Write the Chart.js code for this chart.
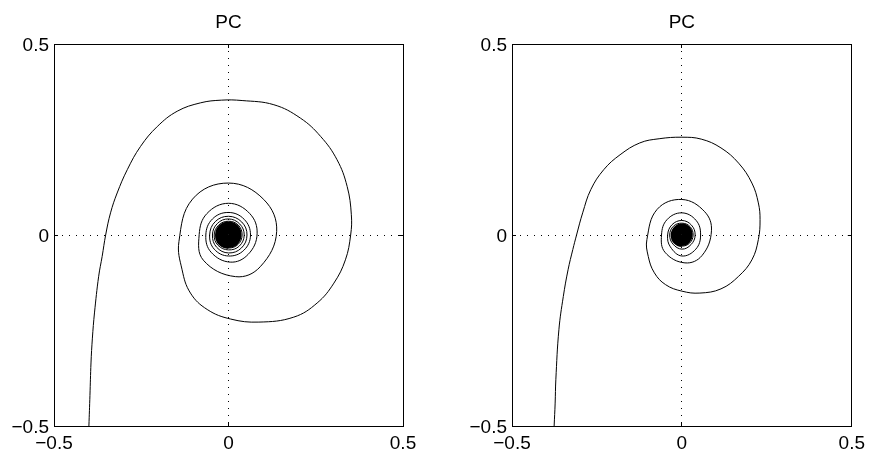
<!DOCTYPE html>
<html>
<head>
<meta charset="utf-8">
<script src="https://cdn.jsdelivr.net/npm/chart.js@4.4.1/dist/chart.umd.min.js"></script>
<style>
  html, body { margin: 0; padding: 0; background: #fff; }
  body { width: 875px; height: 451px; position: relative; overflow: hidden; }
  canvas { position: absolute; top: 0; }
  #left { left: 0; }
  #right { left: 458px; }
</style>
</head>
<body>
<canvas id="left" width="437" height="451"></canvas>
<canvas id="right" width="417" height="451"></canvas>
<script>
const titles = ['PC', 'PC'];
const tickValues = [-0.5, 0, 0.5];
const tickLabels = ['\u22120.5', '0', '0.5'];

// trajectory, [x, y]
const leftSpiral = [
  [-0.400,-0.500],[-0.397,-0.420],[-0.394,-0.335],[-0.390,-0.270],[-0.384,-0.204],
  [-0.372,-0.108],[-0.362,-0.056],[-0.352,0.000],[-0.338,0.058],[-0.319,0.110],
  [-0.290,0.171],[-0.252,0.232],[-0.204,0.284],[-0.147,0.324],[-0.080,0.346],
  [-0.020,0.353],[0.039,0.352],[0.130,0.341],[0.206,0.306],[0.264,0.258],
  [0.311,0.197],[0.340,0.127],[0.352,0.053],[0.350,0.000],[0.335,-0.065],
  [0.302,-0.126],[0.254,-0.178],[0.187,-0.215],[0.087,-0.228],[0.006,-0.220],
  [-0.061,-0.195],[-0.109,-0.152],[-0.133,-0.091],
  [-0.142,-0.017],[-0.103,0.094],[0.000,0.136],[0.101,0.093],[0.138,0.009],
  [0.091,-0.083],[0.020,-0.109],[-0.072,-0.066],
  [-0.084,0.001],[-0.062,0.056],[0.000,0.083],[0.061,0.056],[0.082,0.003],
  [0.056,-0.051],[0.005,-0.071],[-0.050,-0.045],
  [-0.065,0.000],[-0.046,0.042],[0.000,0.059],[0.045,0.041],[0.063,0.000],
  [0.044,-0.040],[0.000,-0.055],[-0.041,-0.037],
  [-0.054,0.000],[-0.038,0.035],[0.000,0.049],[0.038,0.034],[0.053,0.000],
  [0.037,-0.034],[0.000,-0.047],[-0.034,-0.032],
  [-0.046,0.000],[-0.032,0.030],[0.000,0.042],[0.032,0.029],[0.045,0.000],
  [0.031,-0.029],[0.000,-0.039],[-0.030,-0.027],
  [-0.041,0.000],[-0.028,0.026],[0.000,0.036],[0.028,0.026],[0.039,0.000],
  [0.027,-0.025],[0.000,-0.034],[-0.026,-0.024],
  [-0.0358,0],[-0.0253,0.0231],[0,0.0327],[0.0253,0.0231],[0.0344,0],[0.0243,-0.0222],[0,-0.0314],[-0.0243,-0.0222],
  [-0.0330,0],[-0.0233,0.0213],[0,0.0301],[0.0233,0.0213],[0.0315,0],[0.0223,-0.0204],[0,-0.0288],[-0.0223,-0.0204],
  [-0.0301,0],[-0.0213,0.0194],[0,0.0275],[0.0213,0.0194],[0.0287,0],[0.0203,-0.0185],[0,-0.0262],[-0.0203,-0.0185],
  [-0.0272,0],[-0.0192,0.0176],[0,0.0249],[0.0192,0.0176],[0.0258,0],[0.0182,-0.0167],[0,-0.0236],[-0.0182,-0.0167],
  [-0.0244,0],[-0.0172,0.0157],[0,0.0223],[0.0172,0.0157],[0.0229,0],[0.0162,-0.0148],[0,-0.0209],[-0.0162,-0.0148],
  [-0.0215,0],[-0.0152,0.0139],[0,0.0196],[0.0152,0.0139],[0.0201,0],[0.0142,-0.0130],[0,-0.0183],[-0.0142,-0.0130],
  [-0.0186,0],[-0.0132,0.0120],[0,0.0170],[0.0132,0.0120],[0.0172,0],[0.0122,-0.0111],[0,-0.0157],[-0.0122,-0.0111],
  [-0.0158,0],[-0.0111,0.0102],[0,0.0144],[0.0111,0.0102],[0.0143,0],[0.0101,-0.0093],[0,-0.0131],[-0.0101,-0.0093],
  [-0.0129,0],[-0.0091,0.0083],[0,0.0118],[0.0091,0.0083],[0.0115,0],[0.0081,-0.0074],[0,-0.0105],[-0.0081,-0.0074],
  [-0.0100,0],[-0.0071,0.0065],[0,0.0092],[0.0071,0.0065],[0.0086,0],[0.0061,-0.0056],[0,-0.0079],[-0.0061,-0.0056],
  [-0.0072,0],[-0.0051,0.0046],[0,0.0065],[0.0051,0.0046],[0.0057,0],[0.0041,-0.0037],[0,-0.0052],[-0.0041,-0.0037],
  [-0.0043,0],[-0.0030,0.0028],[0,0.0039],[0.0030,0.0028],[0.0029,0],[0.0020,-0.0019],[0,-0.0026],[-0.0020,-0.0019],
  [0,0]
];

// trajectory
const rightSpiral = [
  [-0.376,-0.500],[-0.373,-0.440],[-0.371,-0.379],[-0.362,-0.248],[-0.349,-0.161],
  [-0.335,-0.091],[-0.321,-0.038],[-0.310,0.000],[-0.292,0.058],[-0.268,0.119],
  [-0.230,0.171],[-0.182,0.210],[-0.124,0.241],[-0.067,0.252],[0.000,0.256],
  [0.057,0.251],[0.115,0.228],[0.167,0.188],[0.206,0.136],[0.225,0.084],
  [0.230,0.040],[0.225,-0.012],[0.206,-0.065],[0.167,-0.108],[0.115,-0.141],
  [0.053,-0.152],[0.000,-0.147],[-0.048,-0.130],[-0.081,-0.099],[-0.099,-0.056],
  [-0.103,-0.012],[-0.073,0.067],[0.000,0.093],[0.067,0.061],[0.087,0.011],
  [0.059,-0.054],[0.009,-0.073],[-0.050,-0.045],
  [-0.060,0.000],[-0.044,0.040],[0.000,0.058],[0.042,0.038],[0.055,0.000],
  [0.041,-0.037],[0.000,-0.055],[-0.034,-0.031],
  [-0.042,0.000],[-0.029,0.027],[0.000,0.038],[0.028,0.026],[0.039,0.000],
  [0.027,-0.025],[0.000,-0.037],[-0.026,-0.024],
  [-0.036,0.000],[-0.025,0.023],[0.000,0.031],[0.024,0.022],[0.033,0.000],
  [0.023,-0.021],[0.000,-0.029],[-0.022,-0.020],
  [-0.0301,0],[-0.0213,0.0194],[0,0.0275],[0.0213,0.0194],[0.0287,0],[0.0203,-0.0185],[0,-0.0262],[-0.0203,-0.0185],
  [-0.0272,0],[-0.0192,0.0176],[0,0.0249],[0.0192,0.0176],[0.0258,0],[0.0182,-0.0167],[0,-0.0236],[-0.0182,-0.0167],
  [-0.0244,0],[-0.0172,0.0157],[0,0.0223],[0.0172,0.0157],[0.0229,0],[0.0162,-0.0148],[0,-0.0209],[-0.0162,-0.0148],
  [-0.0215,0],[-0.0152,0.0139],[0,0.0196],[0.0152,0.0139],[0.0201,0],[0.0142,-0.0130],[0,-0.0183],[-0.0142,-0.0130],
  [-0.0186,0],[-0.0132,0.0120],[0,0.0170],[0.0132,0.0120],[0.0172,0],[0.0122,-0.0111],[0,-0.0157],[-0.0122,-0.0111],
  [-0.0158,0],[-0.0111,0.0102],[0,0.0144],[0.0111,0.0102],[0.0143,0],[0.0101,-0.0093],[0,-0.0131],[-0.0101,-0.0093],
  [-0.0129,0],[-0.0091,0.0083],[0,0.0118],[0.0091,0.0083],[0.0115,0],[0.0081,-0.0074],[0,-0.0105],[-0.0081,-0.0074],
  [-0.0100,0],[-0.0071,0.0065],[0,0.0092],[0.0071,0.0065],[0.0086,0],[0.0061,-0.0056],[0,-0.0079],[-0.0061,-0.0056],
  [-0.0072,0],[-0.0051,0.0046],[0,0.0065],[0.0051,0.0046],[0.0057,0],[0.0041,-0.0037],[0,-0.0052],[-0.0041,-0.0037],
  [-0.0043,0],[-0.0030,0.0028],[0,0.0039],[0.0030,0.0028],[0.0029,0],[0.0020,-0.0019],[0,-0.0026],[-0.0020,-0.0019],
  [0,0]
];

Chart.defaults.font.family = '"Liberation Sans", Arial, Helvetica, sans-serif';
Chart.defaults.font.size = 19;
Chart.defaults.color = '#000';

const setTicks = s => { s.ticks = tickValues.map(v => ({ value: v })); };

function mainAxis(position, size, pad) {
  return {
    type: 'linear', position, min: -0.5, max: 0.5,
    afterBuildTicks: setTicks,
    ticks: { callback: (v, i) => tickLabels[i], padding: pad, maxRotation: 0, autoSkip: false, labelOffset: position === 'left' ? 2 : 0 },
    grid: { color: '#000', lineWidth: 1, drawTicks: true, tickLength: -4 },
    border: { display: true, color: '#000', width: 1, dash: [1, 6] },
    afterFit: s => { if (position === 'left') s.width = size; else s.height = size; }
  };
}

// top and right edges of the box, with the inward ticks
function boxAxis(position) {
  return {
    type: 'linear', position, min: -0.5, max: 0.5,
    afterBuildTicks: setTicks,
    ticks: { display: false },
    grid: { display: true, drawOnChartArea: false, drawTicks: true, tickLength: -4, color: '#000' },
    border: { display: true, color: '#000', width: 1 },
    afterFit: s => { if (position === 'right') s.width = 0; else s.height = 0; }
  };
}

// coreR: below this distance from the origin the turns are so tight they print solid
function phasePlot(id, title, points, padRight, coreR) {
  return new Chart(document.getElementById(id), {
    type: 'line',
    data: {
      datasets: [{
        data: points.map(([x, y]) => ({ x, y })),
        borderColor: '#000',
        borderWidth: 1,
        pointRadius: 0,
        tension: 0.4,
        fill: false,
        segment: {
          borderWidth: c => Math.hypot(c.p0.parsed.x, c.p0.parsed.y) < coreR ? 2 : 1
        }
      }]
    },
    options: {
      responsive: false,
      animation: false,
      layout: { padding: { left: 0, right: padRight, top: 0, bottom: 0 } },
      plugins: {
        legend: { display: false },
        tooltip: { enabled: false },
        title: {
          display: true, text: title, fullSize: false, color: '#000',
          font: { size: 19, weight: 'normal' },
          padding: { top: 11, bottom: 10.2 }
        }
      },
      scales: {
        x: mainAxis('bottom', 25, 10),
        y: mainAxis('left', 54, 9),
        x2: boxAxis('top'),
        y2: boxAxis('right')
      }
    }
  });
}

phasePlot('left', titles[0], leftSpiral, 34, 0.036);
phasePlot('right', titles[1], rightSpiral, 14, 0.031);
</script>
</body>
</html>
